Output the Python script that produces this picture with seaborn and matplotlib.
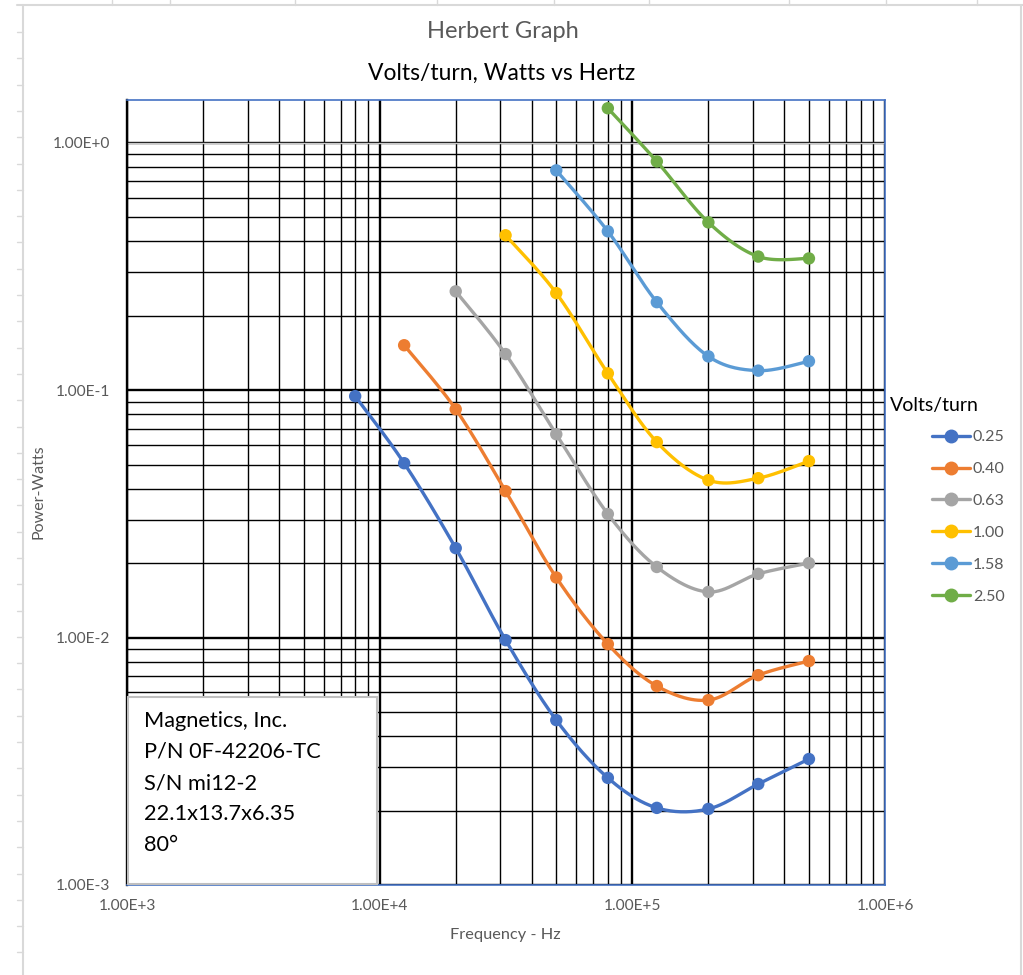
import numpy as np
import pandas as pd
import matplotlib
matplotlib.use("Agg")
import matplotlib.pyplot as plt
import seaborn as sns
from matplotlib.ticker import LogLocator, NullFormatter, FixedLocator, FixedFormatter
from matplotlib.lines import Line2D
from matplotlib.patches import Rectangle

# ---------------- data ----------------
freqs = [8e3, 12.5e3, 20e3, 31.5e3, 50e3, 80e3, 125e3, 200e3, 315e3, 500e3]
series_names = ["0.25", "0.40", "0.63", "1.00", "1.58", "2.50"]
p_025 = [0.0946, 0.0507, 0.0230, 0.00977, 0.00464, 0.00271, 0.00205, 0.00203, 0.00256, 0.00323]
p_040 = [None, 0.152, 0.0838, 0.0391, 0.0175, 0.00941, 0.00637, 0.00559, 0.00705, 0.00804]
p_063 = [None, None, 0.251, 0.140, 0.0664, 0.0316, 0.0193, 0.0153, 0.0181, 0.0200]
p_100 = [None, None, None, 0.423, 0.247, 0.117, 0.0617, 0.0433, 0.0441, 0.0517]
p_158 = [None, None, None, None, 0.774, 0.439, 0.227, 0.137, 0.120, 0.131]
p_250 = [None, None, None, None, None, 1.38, 0.841, 0.477, 0.347, 0.341]
colors = ["#4472C4", "#ED7D31", "#A5A5A5", "#FFC000", "#5B9BD5", "#70AD47"]
x_tick_vals = [1e3, 1e4, 1e5, 1e6]
x_tick_labels = ["1.00E+3", "1.00E+4", "1.00E+5", "1.00E+6"]
y_tick_vals = [1e-3, 1e-2, 1e-1, 1e0]
y_tick_labels = ["1.00E-3", "1.00E-2", "1.00E-1", "1.00E+0"]
info_lines = ["Magnetics, Inc.", "P/N 0F-42206-TC", "S/N mi12-2", "22.1x13.7x6.35", "80°"]

all_series = [p_025, p_040, p_063, p_100, p_158, p_250]

rows = []
for name, vals in zip(series_names, all_series):
    for f, v in zip(freqs, vals):
        if v is not None:
            rows.append({"Frequency": f, "Power": v, "Volts/turn": name})
df = pd.DataFrame(rows)


def smooth(xs, ys, n=30):
    """Excel-like smoothing (Catmull-Rom / Bezier) in log-log space."""
    lx = np.log10(xs)
    ly = np.log10(ys)
    P = np.column_stack([lx, ly])
    P = np.vstack([P[0], P, P[-1]])
    out = []
    for i in range(1, len(P) - 2):
        p0, p1, p2, p3 = P[i - 1], P[i], P[i + 1], P[i + 2]
        c1 = p1 + (p2 - p0) / 6.0
        c2 = p2 - (p3 - p1) / 6.0
        t = np.linspace(0, 1, n, endpoint=(i == len(P) - 3))[:, None]
        b = ((1 - t) ** 3) * p1 + 3 * ((1 - t) ** 2) * t * c1 + 3 * (1 - t) * t ** 2 * c2 + t ** 3 * p2
        out.append(b)
    out = np.vstack(out)
    return 10 ** out[:, 0], 10 ** out[:, 1]


srows = []
for name in series_names:
    sub = df[df["Volts/turn"] == name]
    sx, sy = smooth(sub["Frequency"].values, sub["Power"].values)
    srows.append(pd.DataFrame({"Frequency": sx, "Power": sy, "Volts/turn": name}))
sdf = pd.concat(srows, ignore_index=True)

# ---------------- figure ----------------
sns.set_style("white")
plt.rcParams["font.family"] = ["Lato", "DejaVu Sans"]

W, H = 1023, 975
fig = plt.figure(figsize=(W / 100, H / 100), dpi=100)


def fx(px):
    return px / W


def fy(py):
    return 1 - py / H


# spreadsheet background decoration
for xp in [112, 170, 295, 437, 554, 649, 789, 886, 977]:
    fig.add_artist(Line2D([fx(xp), fx(xp)], [fy(0), fy(5)], color="#D9D9D9", lw=1))
for yp in np.arange(32, 975, 26.3):
    fig.add_artist(Line2D([fx(17), fx(23)], [fy(yp), fy(yp)], color="#D9D9D9", lw=1))
fig.add_artist(Line2D([fx(17), fx(1023)], [fy(5), fy(5)], color="#D9D9D9", lw=1.5))
fig.add_artist(Line2D([fx(23), fx(23)], [fy(5), fy(975)], color="#D9D9D9", lw=1.5))
fig.add_artist(Line2D([fx(1021), fx(1021)], [fy(5), fy(975)], color="#D9D9D9", lw=1.5))

ax = fig.add_axes([fx(127), fy(885), fx(885) - fx(127), fy(100) - fy(885)])
ax.set_xscale("log")
ax.set_yscale("log")
ax.set_xlim(1e3, 1e6)
ax.set_ylim(1e-3, 1.49)

palette = dict(zip(series_names, colors))
sns.lineplot(data=sdf, x="Frequency", y="Power", hue="Volts/turn", palette=palette,
             lw=2.4, legend=False, ax=ax, sort=False, estimator=None, zorder=3)
sns.scatterplot(data=df, x="Frequency", y="Power", hue="Volts/turn", palette=palette,
                s=80, edgecolor="none", legend=False, ax=ax, zorder=4)

ax.set_axisbelow(True)
ax.xaxis.set_major_locator(FixedLocator(x_tick_vals))
ax.xaxis.set_major_formatter(FixedFormatter(x_tick_labels))
ax.yaxis.set_major_locator(FixedLocator(y_tick_vals))
ax.yaxis.set_major_formatter(FixedFormatter(y_tick_labels))
ax.xaxis.set_minor_locator(LogLocator(base=10, subs=np.arange(2, 10), numticks=30))
ax.yaxis.set_minor_locator(LogLocator(base=10, subs=np.arange(2, 10), numticks=30))
ax.xaxis.set_minor_formatter(NullFormatter())
ax.yaxis.set_minor_formatter(NullFormatter())
ax.grid(which="major", color="black", lw=1.7)
ax.grid(which="minor", color="black", lw=1.0)
ax.axhline(1.0, color="#C8C8C8", lw=1.0, zorder=1.5)
ax.tick_params(which="both", length=0, labelsize=11.2, labelcolor="#595959")
ax.tick_params(axis="x", pad=10)
ax.tick_params(axis="y", pad=12)
ax.set_xlabel("")
ax.set_ylabel("")
for side in ["top", "right", "bottom"]:
    ax.spines[side].set_color("#4472C4")
    ax.spines[side].set_linewidth(1.2)
ax.spines["left"].set_color("black")
ax.spines["left"].set_linewidth(1.7)

# info box
ax.add_patch(Rectangle((fx(128), fy(884)), fx(377) - fx(128), fy(697) - fy(884),
                       transform=fig.transFigure, facecolor="white", edgecolor="#BFBFBF",
                       lw=1.5, clip_on=False, zorder=6))
for i, line in enumerate(info_lines):
    ax.text(fx(144), fy(721 + 31 * i), line, transform=fig.transFigure, fontsize=15.7,
            color="black", va="center", ha="left", zorder=7, clip_on=False)

# titles and axis labels
fig.text(fx(503), fy(31), "Herbert Graph", fontsize=17, color="#595959", ha="center", va="center")
fig.text(fx(502), fy(73), "Volts/turn, Watts vs Hertz", fontsize=16.5, color="black", ha="center", va="center")
fig.text(fx(505), fy(935), "Frequency - Hz", fontsize=11.8, color="#595959", ha="center", va="center")
fig.text(fx(38), fy(492), "Power-Watts", fontsize=11.5, color="#595959", ha="center", va="center", rotation=90)

# legend
fig.text(fx(890), fy(405), "Volts/turn", fontsize=14, color="black", ha="left", va="center")
handles = [Line2D([], [], color=c, lw=2.4, marker="o", markersize=9) for c in colors]
leg = fig.legend(handles, series_names, loc="upper left", bbox_to_anchor=(fx(932), fy(430)),
                 frameon=False, fontsize=11.5, handlelength=2.4, handletextpad=0.15,
                 labelspacing=1.11, borderpad=0, borderaxespad=0)
for t in leg.get_texts():
    t.set_color("#595959")

fig.savefig("out.png", dpi=100, facecolor="white")
